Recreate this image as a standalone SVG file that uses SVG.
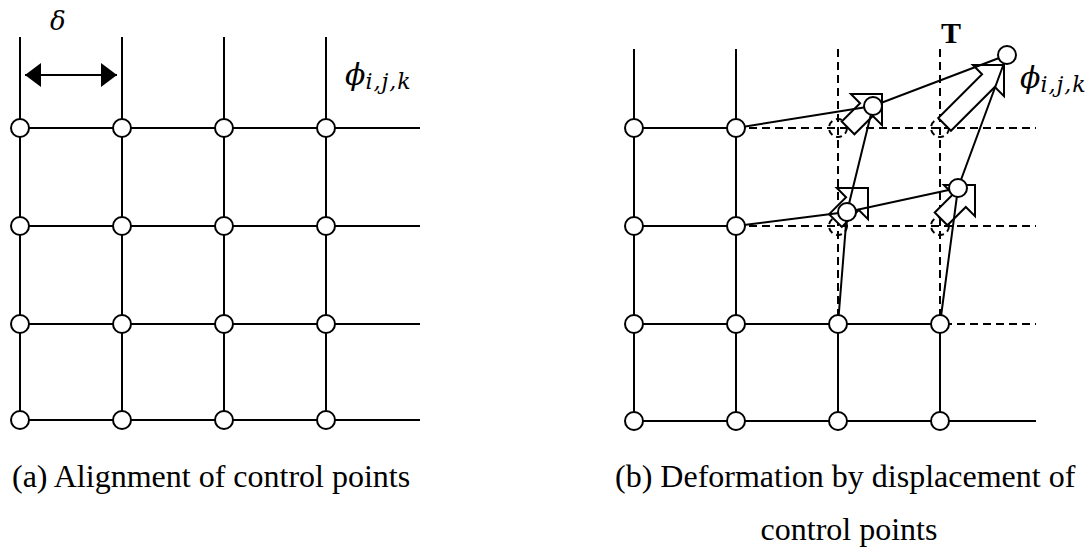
<svg xmlns="http://www.w3.org/2000/svg" width="1088" height="549" viewBox="0 0 1088 549">
<style>
.ln{stroke:#000;stroke-width:2;fill:none}
.dl{stroke:#000;stroke-width:2;fill:none;stroke-dasharray:8 5}
.nd{stroke:#000;stroke-width:2;fill:#fff}
.dn{stroke:#000;stroke-width:2;fill:none;stroke-dasharray:6 4}
.blk{stroke:#000;stroke-width:2;fill:#fff;stroke-linejoin:miter}
.cap{font-family:"Liberation Serif","Times New Roman",serif;font-size:32px;fill:#000}
.mth{font-family:"DejaVu Serif","Liberation Serif",serif;font-style:italic;fill:#000}
</style>
<defs>
<marker id="ah" viewBox="0 0 16 24" refX="16" refY="12" markerWidth="16" markerHeight="24" markerUnits="userSpaceOnUse" orient="auto-start-reverse">
<path d="M0,0 L16,12 L0,24 Z" fill="#000"/>
</marker>
</defs>
<rect width="1088" height="549" fill="#fff"/>

<!-- Left grid (a) -->
<g id="grid-a-lines" class="ln">
<path class="ln" d="M20,37 V420 M122,37 V420 M224,37 V420 M326,37 V420"/>
<path class="ln" d="M20,128 H420 M20,226 H420 M20,324 H420 M20,420 H420"/>
</g>
<g id="delta-dim">
<line x1="25" y1="75" x2="117" y2="75" class="ln" marker-start="url(#ah)" marker-end="url(#ah)"/>
<text x="50" y="30" class="mth" font-size="26">δ</text>
</g>
<g id="nodes-a">
<g id="a-r1c1"><circle cx="20" cy="128" r="9" class="nd"/></g>
<g id="a-r1c2"><circle cx="122" cy="128" r="9" class="nd"/></g>
<g id="a-r1c3"><circle cx="224" cy="128" r="9" class="nd"/></g>
<g id="a-r1c4"><circle cx="326" cy="128" r="9" class="nd"/></g>
<g id="a-r2c1"><circle cx="20" cy="226" r="9" class="nd"/></g>
<g id="a-r2c2"><circle cx="122" cy="226" r="9" class="nd"/></g>
<g id="a-r2c3"><circle cx="224" cy="226" r="9" class="nd"/></g>
<g id="a-r2c4"><circle cx="326" cy="226" r="9" class="nd"/></g>
<g id="a-r3c1"><circle cx="20" cy="324" r="9" class="nd"/></g>
<g id="a-r3c2"><circle cx="122" cy="324" r="9" class="nd"/></g>
<g id="a-r3c3"><circle cx="224" cy="324" r="9" class="nd"/></g>
<g id="a-r3c4"><circle cx="326" cy="324" r="9" class="nd"/></g>
<g id="a-r4c1"><circle cx="20" cy="420" r="9" class="nd"/></g>
<g id="a-r4c2"><circle cx="122" cy="420" r="9" class="nd"/></g>
<g id="a-r4c3"><circle cx="224" cy="420" r="9" class="nd"/></g>
<g id="a-r4c4"><circle cx="326" cy="420" r="9" class="nd"/></g>
</g>
<g id="label-phi-a"><text x="345" y="85" class="mth" font-size="30">ϕ<tspan font-size="22" dy="4" letter-spacing="1">i,j,k</tspan></text></g>

<!-- Right grid (b) -->
<g id="grid-b-dashed">
<path class="dl" d="M736,128 H1036 M736,226 H1036 M736,324 H1036 M838,49 V324 M940,49 V324"/>
<circle cx="838" cy="128" r="9" class="dn"/>
<circle cx="940" cy="128" r="9" class="dn"/>
<circle cx="838" cy="226" r="9" class="dn"/>
<circle cx="940" cy="226" r="9" class="dn"/>
</g>
<g id="displacement-arrows">
<path class="blk" transform="translate(882,94) rotate(-45)" d="M0,0 L-22,-22 L-22,-9 L-48,-9 L-48,9 L-22,9 L-22,22 Z"/>
<path class="blk" transform="translate(1004,65) rotate(-45)" d="M0,0 L-22,-22 L-22,-9 L-84,-9 L-84,9 L-22,9 L-22,22 Z"/>
<path class="blk" transform="translate(868,188) rotate(-45)" d="M0,0 L-22,-22 L-22,-9 L-46,-9 L-46,9 L-22,9 L-22,22 Z"/>
<path class="blk" transform="translate(975,185) rotate(-45)" d="M0,0 L-22,-22 L-22,-9 L-48,-9 L-48,9 L-22,9 L-22,22 Z"/>
</g>
<g id="connectors-b">
<path class="ln" d="M634,49 V421 M736,49 V421 M838,324 V421 M940,324 V421"/>
<path class="ln" d="M634,128 H736 M634,226 H736 M634,324 H940 M634,421 H1036"/>
<path class="ln" d="M736,128 L873,106 L1007,55 M736,226 L847,212 L958,188 M838,324 L847,212 L873,106 M940,324 L958,188 L1007,55"/>
</g>
<g id="nodes-b">
<g id="b-r1c1"><circle cx="634" cy="128" r="9" class="nd"/></g>
<g id="b-r1c2"><circle cx="736" cy="128" r="9" class="nd"/></g>
<g id="b-p1"><circle cx="873" cy="106" r="9" class="nd"/></g>
<g id="b-p2"><circle cx="1007" cy="55" r="9" class="nd"/></g>
<g id="b-r2c1"><circle cx="634" cy="226" r="9" class="nd"/></g>
<g id="b-r2c2"><circle cx="736" cy="226" r="9" class="nd"/></g>
<g id="b-p3"><circle cx="847" cy="212" r="9" class="nd"/></g>
<g id="b-p4"><circle cx="958" cy="188" r="9" class="nd"/></g>
<g id="b-r3c1"><circle cx="634" cy="324" r="9" class="nd"/></g>
<g id="b-r3c2"><circle cx="736" cy="324" r="9" class="nd"/></g>
<g id="b-r3c3"><circle cx="838" cy="324" r="9" class="nd"/></g>
<g id="b-r3c4"><circle cx="940" cy="324" r="9" class="nd"/></g>
<g id="b-r4c1"><circle cx="634" cy="421" r="9" class="nd"/></g>
<g id="b-r4c2"><circle cx="736" cy="421" r="9" class="nd"/></g>
<g id="b-r4c3"><circle cx="838" cy="421" r="9" class="nd"/></g>
<g id="b-r4c4"><circle cx="940" cy="421" r="9" class="nd"/></g>
</g>
<g id="label-T"><text x="941" y="43" font-family="'Liberation Serif','Times New Roman',serif" font-weight="bold" font-size="30">T</text></g>
<g id="label-phi-b"><text x="1020" y="88" class="mth" font-size="30">ϕ<tspan font-size="22" dy="4" letter-spacing="1">i,j,k</tspan></text></g>

<g id="captions">
<text x="12" y="487" class="cap">(a) Alignment of control points</text>
<text x="615" y="487" class="cap">(b) Deformation by displacement of</text>
<text x="849" y="540" class="cap" text-anchor="middle">control points</text>
</g>
</svg>
